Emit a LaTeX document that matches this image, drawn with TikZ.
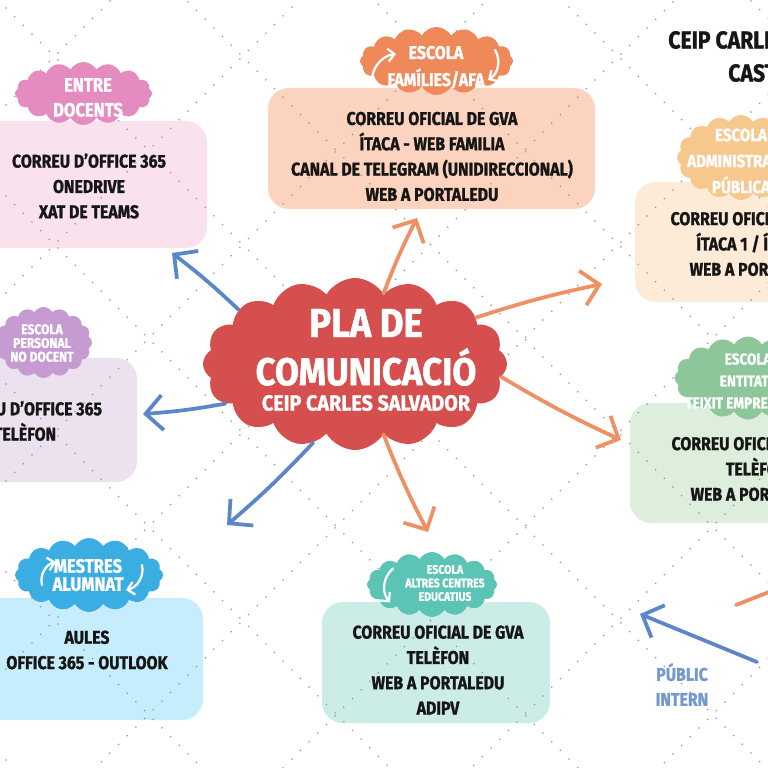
\documentclass[tikz,border=0pt]{standalone}
\usepackage{fontspec}
\newfontfamily\handfont[FakeStretch=0.86, BoldFeatures={FakeBold=1.2}]{Fira Sans}
\newfontfamily\titlefont[FakeStretch=0.9, BoldFeatures={FakeBold=1.2}]{Fira Sans}
\usetikzlibrary{arrows.meta,shapes.symbols}

\definecolor{ink}{HTML}{161616}
\definecolor{extcol}{HTML}{EE9063}
\definecolor{intcol}{HTML}{5B86C8}
\definecolor{plancol}{HTML}{D64F4F}
\definecolor{famlt}{HTML}{FCD3BE}\definecolor{famdk}{HTML}{F0895A}
\definecolor{doclt}{HTML}{F9E2EE}\definecolor{docdk}{HTML}{E48CBF}
\definecolor{admlt}{HTML}{FDEBD8}\definecolor{admdk}{HTML}{F7C88E}
\definecolor{entlt}{HTML}{DDEFDC}\definecolor{entdk}{HTML}{8CC69A}
\definecolor{perlt}{HTML}{EBE1EF}\definecolor{perdk}{HTML}{C69BD1}
\definecolor{meslt}{HTML}{C6EDFB}\definecolor{mesdk}{HTML}{3AAEE2}
\definecolor{altlt}{HTML}{CCEDE7}\definecolor{altdk}{HTML}{5BC4B5}

\begin{document}
\begin{tikzpicture}[
  x=0.2mm, y=-0.2mm,
  box/.style={rounded corners=4.2mm, inner sep=0pt},
  blob/.style={cloud, cloud puffs=16, cloud puff arc=120, cloud ignores aspect,
               inner sep=0pt},
  txt/.style={align=center, text=ink, inner sep=0pt,
              font=\handfont\bfseries\fontsize{10.5}{14.4}\selectfont},
  wtxt/.style={align=center, text=white, inner sep=0pt},
  dots/.style={draw=black!42, line width=0.35mm, line cap=round,
               dash pattern=on 0pt off 2.45mm},
  ext/.style={draw=extcol, line width=0.75mm, line cap=round,
              -{Straight Barb[length=3.4mm, width=7mm]}},
  int/.style={draw=intcol, line width=0.75mm, line cap=round,
              -{Straight Barb[length=3.4mm, width=7mm]}},
  icon/.style={draw=white, line width=0.45mm, line cap=round,
               -{Straight Barb[length=1.3mm, width=2.6mm]}}]

\useasboundingbox (0,0) rectangle (768,768);
\fill[white] (0,0) rectangle (768,768);
\clip (0,0) rectangle (768,768);

% boxes
\node[box, fill=famlt, minimum width=65.4mm, minimum height=24.2mm] (famb) at (431.5,148.5) {};
\node[box, fill=doclt, minimum width=45.4mm, minimum height=25.4mm] (docb) at (93.5,184.5) {};
\node[box, fill=admlt, minimum width=49mm, minimum height=24mm] (admb) at (757.5,242) {};
\node[box, fill=entlt, minimum width=50mm, minimum height=24mm] (entb) at (755,463) {};
\node[box, fill=perlt, minimum width=51.4mm, minimum height=24.8mm] (perb) at (8.5,420) {};
\node[box, fill=meslt, minimum width=44.6mm, minimum height=24.4mm] (mesb) at (91.5,659) {};
\node[box, fill=altlt, minimum width=45.6mm, minimum height=24.2mm] (altb) at (436,662.5) {};

% dotted grid
\foreach \c in {-750,-562,...,754} { \draw[dots] (-20,\c-20) -- (800,\c+800); }
\foreach \d in {111,299,...,1427} { \draw[dots] (-20,\d+20) -- (800,\d-800); }

% box texts
\node[txt] (famt) at (432,156.5)
  {CORREU OFICIAL DE GVA\\ÍTACA - WEB FAMILIA\\CANAL DE TELEGRAM (UNIDIRECCIONAL)\\WEB A PORTALEDU};
\node[txt] (doct) at (89,186) {CORREU D’OFFICE 365\\ONEDRIVE\\XAT DE TEAMS};
\node[txt] (admt) at (756,244) {CORREU OFICIAL DE GVA\\ÍTACA 1 / ÍTACA 3\\WEB A PORTALEDU};
\node[txt] (entt) at (757,469) {CORREU OFICIAL DE GVA\\TELÈFON\\WEB A PORTALEDU};
\node[txt] (pert) at (25,421) {CORREU D’OFFICE 365\\TELÈFON};
\node[txt] (mest) at (87,650) {AULES\\OFFICE 365 - OUTLOOK};
\node[txt] (altt) at (438,670) {CORREU OFICIAL DE GVA\\TELÈFON\\WEB A PORTALEDU\\ADIPV};

% clouds
\node[blob, fill=famdk, minimum width=30.6mm, minimum height=13.6mm] (famc) at (436.5,61) {};
\node[blob, fill=docdk, minimum width=27.4mm, minimum height=12.6mm] (docc) at (83.5,93.5) {};
\node[blob, fill=admdk, minimum width=25.6mm, minimum height=17mm] (admc) at (741,157.5) {};
\node[blob, fill=entdk, minimum width=29.4mm, minimum height=16.6mm] (entc) at (748,378) {};
\node[blob, fill=perdk, minimum width=19.4mm, minimum height=14.2mm] (perc) at (43.5,342.5) {};
\node[blob, fill=mesdk, minimum width=29.6mm, minimum height=14.8mm] (mesc) at (89,575) {};
\node[blob, fill=altdk, minimum width=26mm, minimum height=13mm] (altc) at (432,584.5) {};
\node[blob, fill=plancol, minimum width=60.8mm, minimum height=34.4mm] (plan) at (355,364) {};

% cloud texts
\node[wtxt, font=\handfont\bfseries\fontsize{10.5}{15.4}\selectfont] (famct) at (436,67) {ESCOLA\\FAMÍLIES/AFA};
\node[wtxt, font=\handfont\bfseries\fontsize{11}{14.2}\selectfont] (docct) at (88,97.5) {ENTRE\\DOCENTS};
\node[wtxt, font=\handfont\bfseries\fontsize{10}{14.8}\selectfont] (admct) at (741,161) {ESCOLA\\ADMINISTRACIÓ\\PÚBLICA};
\node[wtxt, font=\handfont\bfseries\fontsize{9}{12.5}\selectfont] (entct) at (748,381) {ESCOLA\\ENTITATS\\TEIXIT EMPRESARIAL};
\node[wtxt, font=\handfont\bfseries\fontsize{8}{7.8}\selectfont] (perct) at (42,343) {ESCOLA\\PERSONAL\\NO DOCENT};
\node[wtxt, font=\handfont\bfseries\fontsize{11}{10.3}\selectfont] (mesct) at (88,575) {MESTRES\\ALUMNAT};
\node[wtxt, font=\handfont\bfseries\fontsize{7}{7.7}\selectfont] (altct) at (445,583) {ESCOLA\\ALTRES CENTRES\\EDUCATIUS};
\node[wtxt, font=\titlefont\bfseries\fontsize{23}{23}\selectfont] (plat1) at (366,323) {PLA DE};
\node[wtxt, font=\titlefont\bfseries\fontsize{22}{22}\selectfont] (plat2) at (366,367) {COMUNICACIÓ};
\node[wtxt, font=\titlefont\bfseries\fontsize{12.5}{14}\selectfont] (plat3) at (366,403) {CEIP CARLES SALVADOR};

% little white arrows in the clouds
\draw[icon] ([shift={(-64.5,24)}]famc.center) to[bend left=45] ([shift={(-40.5,-7)}]famc.center);
\draw[icon] ([shift={(58.5,-11)}]famc.center) to[bend left=45] ([shift={(51.5,19)}]famc.center);
\draw[icon] ([shift={(-47,10)}]mesc.center) to[bend left=45] ([shift={(-33,-13)}]mesc.center);
\draw[icon] ([shift={(53,-10)}]mesc.center) to[bend left=45] ([shift={(37,15)}]mesc.center);
\draw[icon] ([shift={(-39,-16)}]altc.center) to[bend right=45] ([shift={(-42,18)}]altc.center);

% title top right
\node[anchor=west, text=ink, inner sep=0pt, font=\handfont\bfseries\fontsize{14}{16}\selectfont]
  (ttl1) at (668,40) {CEIP CARLES SALVADOR};
\node[anchor=west, text=ink, inner sep=0pt, font=\handfont\bfseries\fontsize{14}{16}\selectfont]
  (ttl2) at (728,70) {CASTELLÓ};

% arrow ends
\coordinate (tfam) at (417,218);
\coordinate (tadm) at (602,284);
\coordinate (tent) at (621,440);
\coordinate (talt) at (428,532);
\coordinate (tmes) at (227,525);
\coordinate (tper) at (143,414);
\coordinate (tdoc) at (172,253);

\draw[ext] (plan.68) to[bend left=3] (tfam);
\draw[ext] (plan.21) to[bend left=3] (tadm);
\draw[ext] (plan.-5) to[bend right=3] (tent);
\draw[ext] (plan.-68) to[bend right=3] (talt);
\draw[int] (plan.-118) to[bend left=3] (tmes);
\draw[int] (plan.-163) to[bend left=3] (tper);
\draw[int] (plan.155) to[bend right=3] (tdoc);

% legend
\coordinate (li1) at (757,662);
\coordinate (li2) at (640,614);
\coordinate (le1) at (736,605);
\coordinate (le2) at (850,560);
\draw[int] (li1) -- (li2);
\draw[ext] (le1) -- (le2);
\node[text=intcol!85!white, align=center, inner sep=0pt,
      font=\handfont\bfseries\fontsize{10.5}{14.2}\selectfont] (lgint) at (682,684.5) {PÚBLIC\\INTERN};
\end{tikzpicture}
\end{document}
